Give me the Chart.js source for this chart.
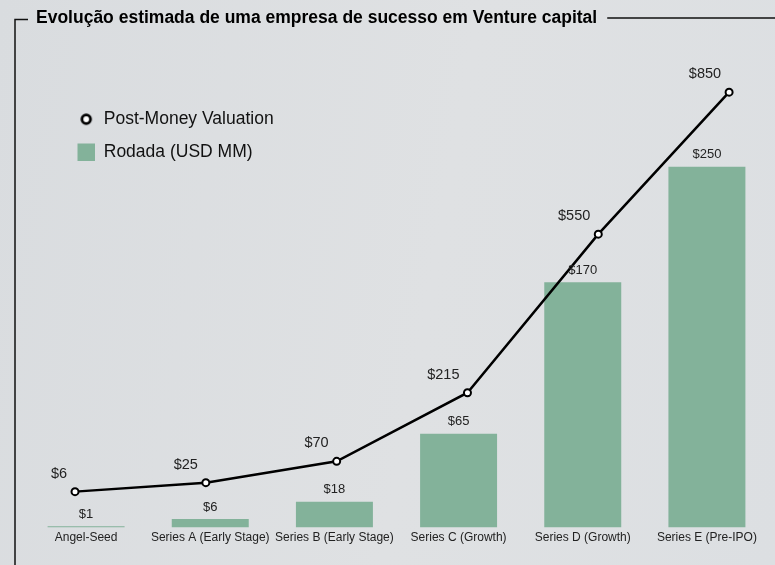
<!DOCTYPE html>
<html>
<head>
<meta charset="utf-8">
<script src="https://cdn.jsdelivr.net/npm/chart.js@4"></script>
<style>
  html, body { margin: 0; padding: 0; background: linear-gradient(100deg, #d9dcdf 0%, #dfe1e3 55%, #dcdfe2 100%); }
  canvas { display: block; }
</style>
</head>
<body>
<canvas id="vcChart" width="775" height="565"></canvas>
<script>
// dados do gráfico
const chartTitle = 'Evolução estimada de uma empresa de sucesso em Venture capital';
const rounds = ['Angel-Seed', 'Series A (Early Stage)', 'Series B (Early Stage)', 'Series C (Growth)', 'Series D (Growth)', 'Series E (Pre-IPO)'];
const roundSize = [1, 6, 18, 65, 170, 250];
const postMoney = [6, 25, 70, 215, 550, 850];
const seriesNames = ['Post-Money Valuation', 'Rodada (USD MM)'];

const FONT = "'Liberation Sans', Arial, sans-serif";
const GREEN = '#83b29a';

// ícone do legend para a linha (anel preto)
const ringIcon = document.createElement('canvas');
ringIcon.width = 14;
ringIcon.height = 14;
(function () {
    const c = ringIcon.getContext('2d');
    c.beginPath();
    c.arc(7, 7, 4.3, 0, Math.PI * 2);
    c.fillStyle = '#fff';
    c.fill();
    c.lineWidth = 2.8;
    c.strokeStyle = '#000';
    c.stroke();
})();

// moldura + título
const framePlugin = {
    id: 'framePlugin',
    beforeDraw(chart) {
        const ctx = chart.ctx;
        ctx.save();
        ctx.font = 'bold 17.5px ' + FONT;
        ctx.fillStyle = '#000';
        ctx.textBaseline = 'middle';
        ctx.textAlign = 'left';
        const tx = 36, ty = 18;
        ctx.fillText(chartTitle, tx, ty);
        const tw = ctx.measureText(chartTitle).width;
        ctx.strokeStyle = '#111';
        ctx.lineWidth = 1.5;
        ctx.beginPath();
        ctx.moveTo(15, 565);
        ctx.lineTo(15, ty + 1.5);
        ctx.lineTo(28, ty + 1.5);
        ctx.moveTo(tx + tw + 10, ty);
        ctx.lineTo(chart.width, ty);
        ctx.stroke();
        ctx.restore();
    }
};

// rótulos de valores
const valueLabels = {
    id: 'valueLabels',
    afterDatasetsDraw(chart) {
        const ctx = chart.ctx;
        ctx.save();
        ctx.fillStyle = '#222';
        ctx.textBaseline = 'middle';
        chart.data.datasets.forEach((ds, di) => {
            const meta = chart.getDatasetMeta(di);
            meta.data.forEach((el, i) => {
                if (ds.type === 'bar') {
                    ctx.font = '13px ' + FONT;
                    ctx.textAlign = 'center';
                    ctx.fillText('$' + roundSize[i], el.x, el.y - 12);
                } else {
                    ctx.font = '14.5px ' + FONT;
                    ctx.textAlign = 'right';
                    ctx.fillText('$' + postMoney[i], el.x - 8, el.y - 18);
                }
            });
        });
        ctx.restore();
    }
};

// posiciona o legend dentro da área do gráfico
const legendOffset = {
    id: 'legendOffset',
    afterLayout(chart) {
        if (chart.legend) {
            chart.legend.left = 62;
            chart.legend.top = 95;
        }
    }
};

const ctx = document.getElementById('vcChart').getContext('2d');

const vcChart = new Chart(ctx, {
    data: {
        labels: rounds,
        datasets: [{
            type: 'line',
            label: seriesNames[0],
            data: postMoney.map((v, i) => ({ x: i, y: v })),
            xAxisID: 'xLine',
            yAxisID: 'yLine',
            borderColor: '#000',
            borderWidth: 2.5,
            pointRadius: 3.5,
            pointBorderWidth: 2,
            pointBackgroundColor: '#fff',
            pointBorderColor: '#000',
            tension: 0,
            order: 0
        }, {
            type: 'bar',
            label: seriesNames[1],
            data: roundSize,
            xAxisID: 'x',
            yAxisID: 'y',
            backgroundColor: GREEN,
            borderWidth: 0,
            grouped: false,
            categoryPercentage: 1,
            barPercentage: 0.62,
            pointStyle: 'rect',
            order: 1
        }]
    },
    options: {
        responsive: false,
        animation: false,
        layout: {
            padding: { top: 50, left: 24, right: 5, bottom: 17 }
        },
        scales: {
            x: {
                type: 'category',
                grid: { display: false, drawTicks: false },
                border: { display: false },
                ticks: {
                    color: '#222',
                    font: { family: FONT, size: 12 },
                    padding: 3,
                    maxRotation: 0,
                    autoSkip: false
                }
            },
            xLine: {
                type: 'linear',
                display: false,
                min: -0.39,
                max: 5.305
            },
            y: {
                display: false,
                min: 0,
                max: 331
            },
            yLine: {
                display: false,
                min: -70,
                max: 939
            }
        },
        plugins: {
            legend: {
                position: 'chartArea',
                align: 'start',
                labels: {
                    usePointStyle: true,
                    color: '#111',
                    padding: 15.5,
                    font: { family: FONT, size: 17.5 },
                    generateLabels(chart) {
                        const items = Chart.defaults.plugins.legend.labels.generateLabels(chart);
                        items.forEach(it => {
                            if (it.text === seriesNames[0]) it.pointStyle = ringIcon;
                        });
                        return items;
                    }
                }
            },
            tooltip: { enabled: false },
            title: { display: false }
        }
    },
    plugins: [framePlugin, valueLabels, legendOffset]
});
</script>
</body>
</html>
